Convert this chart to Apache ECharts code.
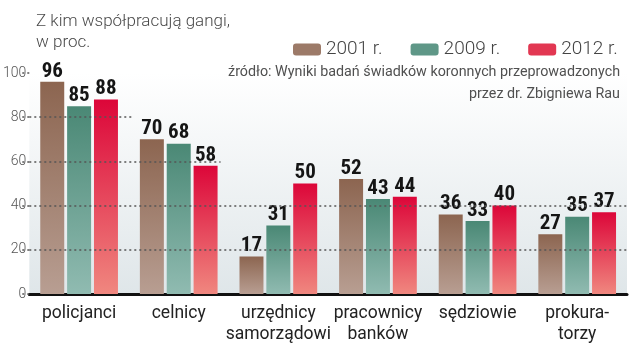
<!DOCTYPE html>
<html><head><meta charset="utf-8">
<script src="https://cdn.jsdelivr.net/npm/echarts@6/dist/echarts.min.js"></script>
<style>html,body{margin:0;padding:0;background:#fff}#c{width:637px;height:349px}</style>
</head><body><div id="c"></div>
<script>
const categories = ['policjanci', 'celnicy', 'urzędnicy\nsamorządowi', 'pracownicy\nbanków', 'sędziowie', 'prokura-\ntorzy'];
const seriesNames = ['2001 r.', '2009 r.', '2012 r.'];
const v2001 = [96, 70, 17, 52, 36, 27];
const v2009 = [85, 68, 31, 43, 33, 35];
const v2012 = [88, 58, 50, 44, 40, 37];
const yTicks = [0, 20, 40, 60, 80, 100];
const titleText = 'Z kim współpracują gangi,\nw proc.';
const sourceLines = ['źródło: Wyniki badań świadków koronnych przeprowadzonych', 'przez dr. Zbigniewa Rau'];
// gridline extents (fraction of plot width) per level
const gridLevels = [20, 40, 60, 80];
const gridEnds = [1, 1, 0.32, 0.172];

const grad = (top, bottom) => new echarts.graphic.LinearGradient(0, 0, 0, 1, [{offset: 0, color: top}, {offset: 1, color: bottom}]);
const colors = [grad('#8c6550', '#b89e92'), grad('#4a8875', '#90bbb1'), grad('#dc0639', '#f0877f')];
const legendColors = ['#9c7a68', '#5f9787', '#e23752'];
const values = [v2001, v2009, v2012];

const chart = echarts.init(document.getElementById('c'), null, {renderer: 'canvas'});
const labelFont = {fontFamily: "'Roboto Condensed', 'DejaVu Sans Condensed', 'Liberation Sans Narrow', 'Noto Sans', sans-serif", fontWeight: 'bold', fontSize: 21, color: '#151515'};
const series = values.map((v, i) => ({
  name: seriesNames[i], type: 'bar', data: v,
  barGap: '12%', barCategoryGap: '22%',
  itemStyle: {color: colors[i]},
  label: Object.assign({show: true, position: 'top', distance: 0}, labelFont),
  z: 3
}));
series.push({
  type: 'line', xAxisIndex: 1, data: [], silent: true, z: 1,
  markLine: {
    silent: true, symbol: 'none', label: {show: false},
    lineStyle: {color: '#555', width: 1.5, type: [2, 3]},
    data: gridLevels.map((lv, k) => [{coord: [0, lv]}, {coord: [gridEnds[k], lv]}])
  }
});

chart.setOption({
  animation: false,
  backgroundColor: '#fff',
  textStyle: {fontFamily: 'Roboto'},
  title: {text: titleText, left: 31, top: 6,
     textStyle: {fontFamily: 'Roboto', fontWeight: 300, fontSize: 17, color: '#4a4a4a', lineHeight: 21}},
  graphic: sourceLines.map((t, i) => ({type: 'text', right: 17, top: 65 + i * 22,
     style: {text: t, fontFamily: 'Roboto', fontSize: 14.3, fill: '#505050'}})),
  legend: {
    left: 288, top: 35, itemWidth: 28, itemHeight: 12, itemGap: 28, icon: 'roundRect',
    data: seriesNames.map((n, i) => ({name: n, itemStyle: {color: legendColors[i]}})),
    textStyle: {fontFamily: 'Roboto', fontWeight: 300, fontSize: 19, color: '#444'}
  },
  grid: {left: 29, right: 10, top: 73, bottom: 55, show: true, borderWidth: 0,
    backgroundColor: grad('#ffffff', '#dfe6e9')},
  xAxis: [
    {type: 'category', data: categories,
     axisLine: {show: true, lineStyle: {color: '#111', width: 3}},
     axisTick: {show: false},
     axisLabel: {fontFamily: 'Roboto', fontSize: 17.5, color: '#222', margin: 9, lineHeight: 21, interval: 0}},
    {type: 'value', min: 0, max: 1, show: false}
  ],
  yAxis: {
    type: 'value', min: 0, max: 100, interval: 20,
    axisLine: {show: false},
    axisTick: {show: true, length: 7, lineStyle: {color: '#555', width: 1.5, type: [2, 3]}},
    splitLine: {show: false},
    axisLabel: {fontFamily: 'Roboto', fontWeight: 300, fontSize: 14, color: '#555', margin: 3,
      formatter: (val) => yTicks.includes(val) ? String(val) : ''}
  },
  series
});
</script></body></html>
